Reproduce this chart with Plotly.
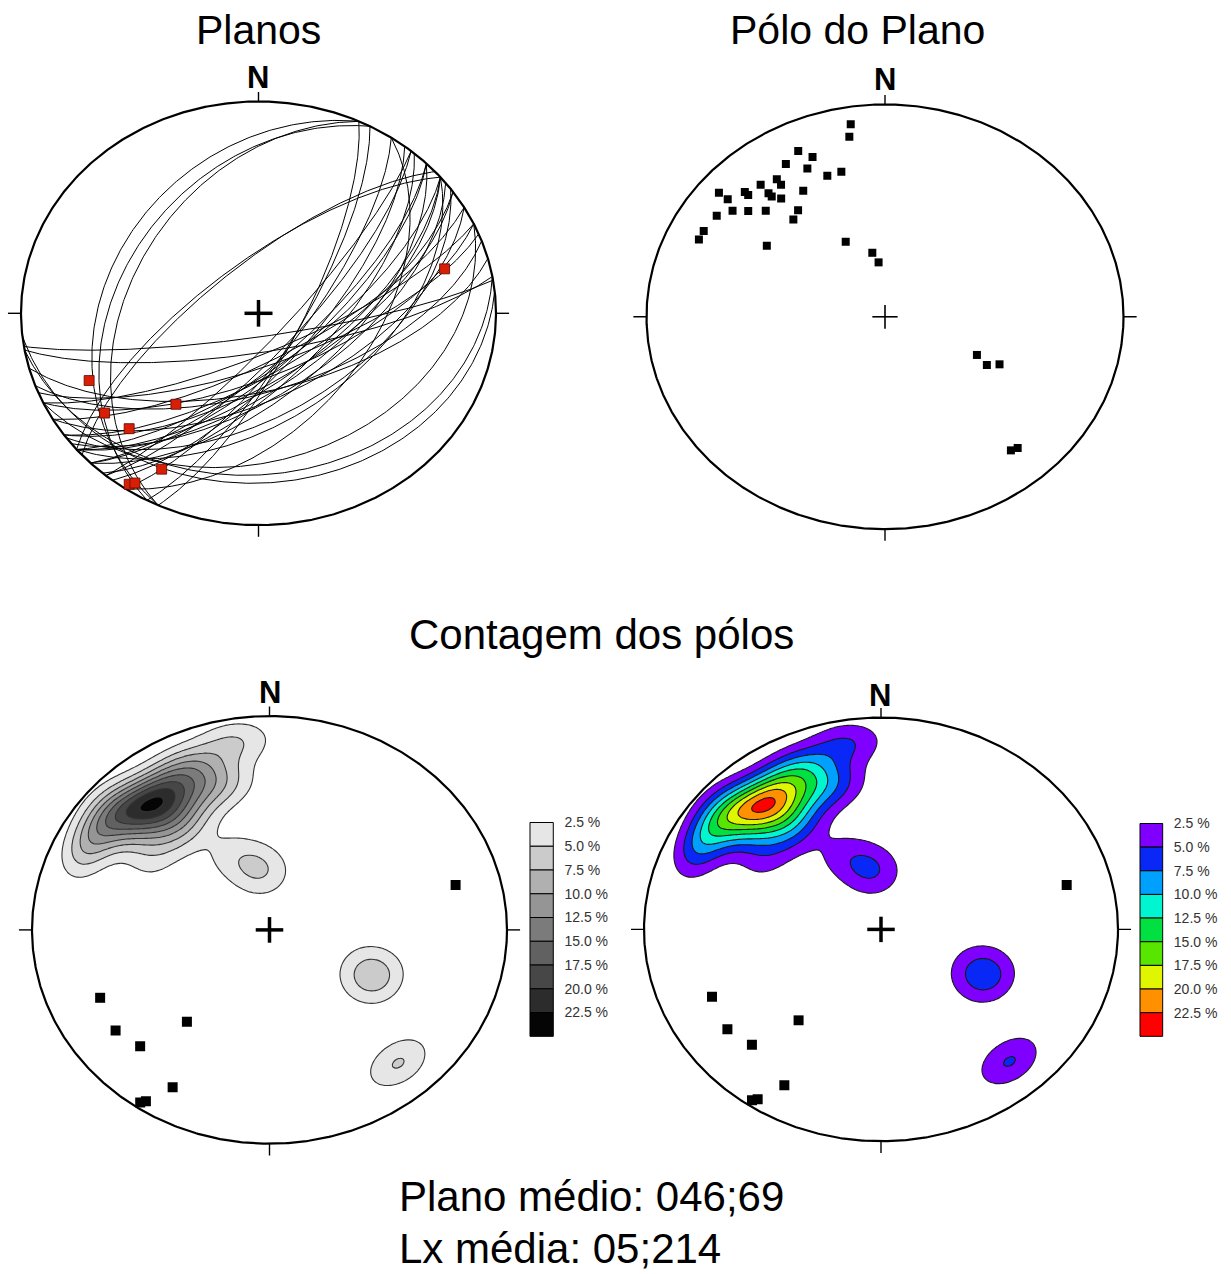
import numpy as np
import plotly.graph_objects as go

W, H = 1231, 1274
FONT = "Liberation Sans, Arial, sans-serif"

# ---------------- data (trend, plunge in degrees) ----------------
pole_trend = [351, 350, 335, 338, 330, 335, 345, 340, 325, 325,
              320, 310, 310, 315, 315, 320, 320, 322, 330, 304,
              308, 311, 315, 324, 320, 298, 295, 304, 335, 350,
              354, 115, 118, 115, 140, 138]
pole_plunge = [9, 15, 15, 20, 18, 24, 30, 30, 22, 25,
               20, 10, 15, 18, 20, 25, 27, 30, 32, 16,
               20, 25, 30, 38, 40, 15, 15, 40, 58, 65,
               69, 55, 50, 46, 19, 18]

lin_trend = [246, 234, 219, 225, 209, 214, 213, 75]
lin_plunge = [23, 21, 44, 24, 17, 3, 5, 20]

density_levels = [2.5, 5.0, 7.5, 10.0, 12.5, 15.0, 17.5, 20.0, 22.5]
level_labels = ["2.5 %", "5.0 %", "7.5 %", "10.0 %", "12.5 %",
                "15.0 %", "17.5 %", "20.0 %", "22.5 %"]
gray_fill = ["#e6e6e6", "#cbcbcb", "#b0b0b0", "#959595", "#7b7b7b",
             "#616161", "#474747", "#2c2c2c", "#050505"]
rainbow_fill = ["#8000ff", "#0a28f5", "#00a0ff", "#00f5d0", "#00e040",
                "#58e600", "#e0f500", "#ff9000", "#ff0000"]

title_planes = "Planos"
title_poles = "Pólo do Plano"
title_count = "Contagem dos pólos"
mean_plane_text = "Plano médio: 046;69"
mean_lin_text = "Lx média: 05;214"

KAPPA = 66.0          # smoothing concentration (axial Fisher kernel)
PEAK_PER_POLE = 2.62  # % at the centre of an isolated pole

# ---------------- geometry helpers ----------------
def vec(trend, plunge):
    t = np.radians(np.asarray(trend, dtype=float))
    p = np.radians(np.asarray(plunge, dtype=float))
    return np.stack([np.sin(t) * np.cos(p), np.cos(t) * np.cos(p), np.sin(p)], axis=-1)


def project(v):
    """Lower-hemisphere equal-area (Schmidt) projection."""
    v = np.array(v, dtype=float)
    flip = v[..., 2] < -1e-9
    v[flip] = -v[flip]
    z = np.maximum(v[..., 2], 0.0)
    s = np.sqrt(1.0 + z)
    return v[..., 0] / s, v[..., 1] / s


# panel geometry in pixels: centre x, centre y, radius x, radius y
PANELS = [
    (258.5, 308.0, 237.5, 213.0),   # planes
    (885.0, 311.5, 238.5, 213.5),   # poles
    (269.5, 928.0, 237.5, 215.0),   # gray contours
    (881.0, 927.5, 237.0, 213.0),   # rainbow contours
]
L = 1.08

fig = go.Figure()
layout = dict(width=W, height=H, autosize=False,
              margin=dict(l=0, r=0, t=0, b=0, pad=0),
              paper_bgcolor="white", plot_bgcolor="white",
              showlegend=False)

for i, (cx, cy, rx, ry) in enumerate(PANELS, start=1):
    s = "" if i == 1 else str(i)
    layout["xaxis" + s] = dict(domain=[(cx - L * rx) / W, (cx + L * rx) / W],
                               range=[-L, L], visible=False, fixedrange=True,
                               anchor="y" + s)
    layout["yaxis" + s] = dict(domain=[1 - (cy + L * ry) / H, 1 - (cy - L * ry) / H],
                               range=[-L, L], visible=False, fixedrange=True,
                               anchor="x" + s)

theta = np.linspace(0, 2 * np.pi, 721)


def add_mask(xa, ya):
    ang = np.radians(np.linspace(225, -135, 721))
    mx = [-L, L, L, -L, -L] + list(np.cos(ang)) + [-L]
    my = [-L, -L, L, L, -L] + list(np.sin(ang)) + [-L]
    fig.add_trace(go.Scatter(x=mx, y=my, mode="lines", fill="toself",
                             fillcolor="white", line=dict(width=0, color="white"),
                             xaxis=xa, yaxis=ya, hoverinfo="skip"))


def add_frame(xa, ya, cross_w, arm_x, arm_y):
    fig.add_trace(go.Scatter(x=np.cos(theta), y=np.sin(theta), mode="lines",
                             line=dict(color="black", width=2.2),
                             xaxis=xa, yaxis=ya, hoverinfo="skip"))
    tx = [0, 0, None, -1, -1.055, None, 1, 1.055, None, 0, 0]
    ty = [1, 1.045, None, 0, 0, None, 0, 0, None, -1, -1.055]
    fig.add_trace(go.Scatter(x=tx, y=ty, mode="lines",
                             line=dict(color="black", width=1.4),
                             xaxis=xa, yaxis=ya, hoverinfo="skip"))
    fig.add_trace(go.Scatter(x=[-arm_x, arm_x, None, 0, 0],
                             y=[0, 0, None, -arm_y, arm_y], mode="lines",
                             line=dict(color="black", width=cross_w),
                             xaxis=xa, yaxis=ya, hoverinfo="skip"))


# ---------------- panel 1: great circles ----------------
th = np.linspace(0, np.pi, 241)
gcx, gcy = [], []
for T, P in zip(pole_trend, pole_plunge):
    dd = (T + 180) % 360
    dip = 90 - P
    a = vec(dd - 90, 0)
    b = vec(dd, dip)
    v = np.outer(np.cos(th), a) + np.outer(np.sin(th), b)
    X, Y = project(v)
    gcx += list(X) + [None]
    gcy += list(Y) + [None]
fig.add_trace(go.Scatter(x=gcx, y=gcy, mode="lines",
                         line=dict(color="black", width=1.0),
                         xaxis="x", yaxis="y", hoverinfo="skip"))
add_frame("x", "y", 3.5, 0.059, 0.063)
lx, ly = project(vec(lin_trend, lin_plunge))
fig.add_trace(go.Scatter(x=lx, y=ly, mode="markers",
                         marker=dict(symbol="square", size=10, color="#d81e05",
                                     line=dict(color="#5a0a00", width=0.8)),
                         xaxis="x", yaxis="y", hoverinfo="skip"))

# ---------------- panel 2: poles ----------------
add_frame("x2", "y2", 1.6, 0.053, 0.056)
px_, py_ = project(vec(pole_trend, pole_plunge))
fig.add_trace(go.Scatter(x=px_, y=py_, mode="markers",
                         marker=dict(symbol="square", size=8, color="black"),
                         xaxis="x2", yaxis="y2", hoverinfo="skip"))

# ---------------- density ----------------
pv = vec(pole_trend, pole_plunge)
grid = np.linspace(-1.06, 1.06, 213)
GX, GY = np.meshgrid(grid, grid)
R2 = np.minimum(GX ** 2 + GY ** 2, 2.0)
gz = 1.0 - R2
f = np.sqrt(2.0 - R2)
gv = np.stack([GX * f, GY * f, gz], axis=-1)
cosang = np.abs(gv @ pv.T)
pct = PEAK_PER_POLE * np.exp(KAPPA * (cosang - 1.0)).sum(axis=-1)

step = density_levels[1] - density_levels[0]
for xa, ya, fills, lc in [("x3", "y3", gray_fill, "#333333"),
                          ("x4", "y4", rainbow_fill, "#1a1a1a")]:
    cols = ["#ffffff"] + fills
    cs = [[k / (len(cols) - 1), c] for k, c in enumerate(cols)]
    fig.add_trace(go.Contour(x=grid, y=grid, z=pct, autocontour=False,
                             contours=dict(start=density_levels[0], end=density_levels[-1],
                                           size=step, coloring="fill"),
                             colorscale=cs, showscale=False,
                             line=dict(color=lc, width=1.1),
                             xaxis=xa, yaxis=ya, hoverinfo="skip"))
    add_mask(xa, ya)
    add_frame(xa, ya, 3.5, 0.058, 0.06)
    fig.add_trace(go.Scatter(x=lx, y=ly, mode="markers",
                             marker=dict(symbol="square", size=10, color="black"),
                             xaxis=xa, yaxis=ya, hoverinfo="skip"))

# ---------------- legends (bar columns) ----------------
legend_boxes = [("x5", "y5", gray_fill, (530.0, 553.3, 820.0, 1035.0)),
                ("x6", "y6", rainbow_fill, (1140.0, 1162.7, 821.0, 1035.0))]
nlev = len(density_levels)
for xa, ya, fills, (x0, x1, y0, y1) in legend_boxes:
    fig.add_trace(go.Bar(x=[0] * nlev, y=[1] * nlev, base=list(range(nlev)), width=1,
                         marker=dict(color=fills, line=dict(color="black", width=1)),
                         xaxis=xa, yaxis=ya, hoverinfo="skip"))
    w = x1 - x0
    hc = (y1 - y0) / nlev
    s = xa[1:]
    layout["xaxis" + s] = dict(domain=[(x0 - 0.05 * w) / W, (x1 + 0.05 * w) / W],
                               range=[-0.55, 0.55], visible=False, fixedrange=True,
                               anchor="y" + s)
    layout["yaxis" + s] = dict(domain=[1 - (y1 + 0.05 * hc) / H, 1 - (y0 - 0.05 * hc) / H],
                               range=[nlev + 0.05, -0.05], side="right", anchor="x" + s,
                               tickvals=list(range(nlev)), ticktext=level_labels,
                               ticks="", showgrid=False, zeroline=False, showline=False,
                               ticklabelstandoff=9, fixedrange=True,
                               tickfont=dict(family=FONT, size=14, color="#333333"))


# ---------------- texts ----------------
def ann(text, xpx, ypx, size, xanchor="center"):
    return dict(text=text, x=xpx / W, y=1 - ypx / H, xref="paper", yref="paper",
                showarrow=False, xanchor=xanchor, yanchor="middle",
                font=dict(family=FONT, size=size, color="black"))


annotations = [
    ann(title_planes, 258, 23, 41),
    ann(title_poles, 857, 23, 41),
    ann(title_count, 601, 631, 42),
    ann(mean_plane_text, 397, 1196, 42, "left"),
    ann(mean_lin_text, 397, 1248, 42, "left"),
    ann("<b>N</b>", 258, 71, 31),
    ann("<b>N</b>", 885, 73, 31),
    ann("<b>N</b>", 269.5, 689, 31),
    ann("<b>N</b>", 880, 692, 31),
]
layout["annotations"] = annotations
fig.update_layout(**layout)

fig.write_html("out.html")
